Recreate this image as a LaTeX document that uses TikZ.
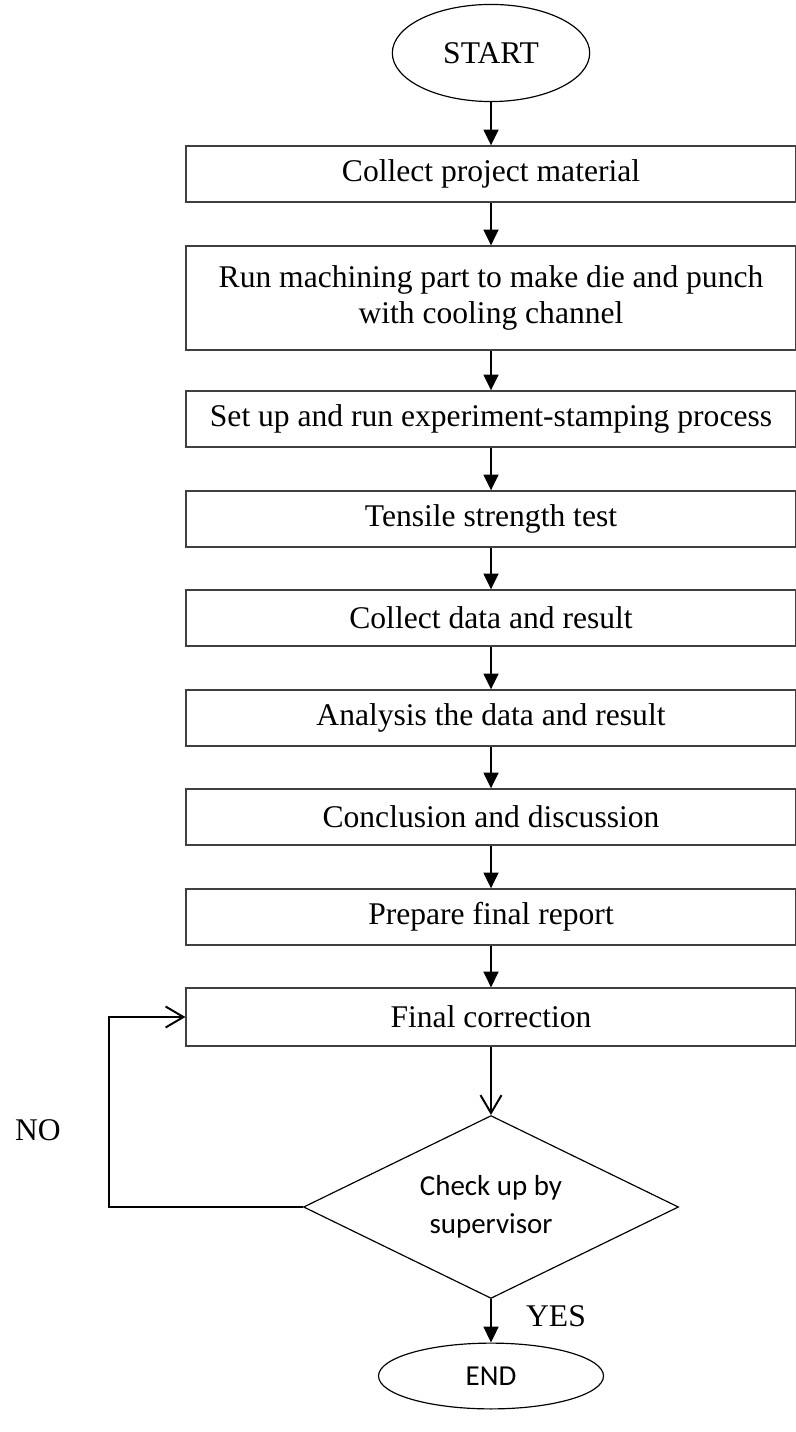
\documentclass[tikz,border=0pt]{standalone}
\usepackage{fontspec}
\setmainfont{Liberation Serif}
\newfontfamily\calibri{Carlito}
\usetikzlibrary{shapes.geometric,arrows.meta}

\tikzset{
  stepbox/.style={draw=black!75,line width=0.45pt,minimum width=231.8pt,minimum height=21.3pt,
    inner sep=0pt,align=center,font=\fontsize{12}{13.8}\selectfont},
  terminal/.style={draw,ellipse,line width=0.45pt,inner sep=0pt,font=\fontsize{12}{13.8}\selectfont},
  decision/.style={draw,diamond,aspect=2,line width=0.45pt,inner sep=0pt,minimum width=142.5pt,
    minimum height=69.5pt,align=center,font=\calibri\fontsize{11}{14.5}\selectfont},
  flow/.style={-{Triangle[length=6pt,width=5.6pt]},line width=0.9pt},
  openflow/.style={-{Straight Barb[length=6.8pt,width=8pt]},line width=0.75pt}
}

\begin{document}
\begin{tikzpicture}[x=0.38pt,y=-0.38pt]
\useasboundingbox (0,0) rectangle (796,1432);
\node[terminal,minimum width=75pt,minimum height=36.9pt] (start) at (491,53) {START};
\node[stepbox] (collect) at (491,174) {Collect project material};
\node[stepbox,minimum height=39.5pt] (machine) at (491,298) {Run machining part to make die and punch\\with cooling channel};
\node[stepbox] (stamp) at (491,419) {Set up and run experiment-stamping process};
\node[stepbox] (tensile) at (491,519) {Tensile strength test};
\node[stepbox] (data) at (491,618) {Collect data and result};
\node[stepbox] (analysis) at (491,718) {Analysis the data and result};
\node[stepbox] (concl) at (491,817) {Conclusion and discussion};
\node[stepbox] (report) at (491,917) {Prepare final report};
\node[stepbox,minimum height=22pt] (final) at (491,1017) {Final correction};
\node[decision] (check) at (491,1207) {Check up by\\supervisor};
\node[terminal,font=\calibri\fontsize{11}{13}\selectfont,minimum width=85.5pt,minimum height=25pt] (end) at (491,1376) {END};
\node[font=\fontsize{12}{13.8}\selectfont] (no) at (38,1130) {NO};
\node[font=\fontsize{12}{13.8}\selectfont] (yes) at (556,1316) {YES};
\coordinate (loop) at (109,1207);

\draw[flow] (start) -- (collect);
\draw[flow] (collect) -- (machine);
\draw[flow] (machine) -- (stamp);
\draw[flow] (stamp) -- (tensile);
\draw[flow] (tensile) -- (data);
\draw[flow] (data) -- (analysis);
\draw[flow] (analysis) -- (concl);
\draw[flow] (concl) -- (report);
\draw[flow] (report) -- (final);
\draw[openflow] (final) -- (check);
\draw[flow] (check) -- (end);
\draw[openflow] (check.west) -- (loop) |- (final.west);
\end{tikzpicture}
\end{document}
